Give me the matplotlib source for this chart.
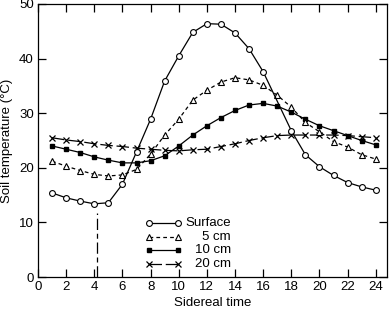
import matplotlib
matplotlib.use("Agg")
import matplotlib.pyplot as plt

plt.rcParams['font.family'] = ['Liberation Sans', 'DejaVu Sans']
plt.rcParams['font.size'] = 9.5

hours = list(range(1, 25))
surface_hours = [1, 2, 3, 4, 5, 6, 7, 8, 9, 10, 11, 12, 13, 14, 15, 16, 18, 19, 20, 21, 22, 23, 24]
surface = [15.4, 14.5, 13.9, 13.4, 13.6, 17.0, 22.9, 28.9, 35.9, 40.5, 44.8, 46.4,
           46.3, 44.7, 41.8, 37.6, 26.8, 22.4, 20.2, 18.6, 17.3, 16.5, 15.9]
cm5 = [21.2, 20.3, 19.5, 18.8, 18.5, 18.7, 19.7, 22.5, 26.0, 28.9, 32.4, 34.2,
       35.7, 36.5, 36.1, 35.1, 33.3, 31.1, 28.3, 26.6, 24.8, 23.8, 22.4, 21.6]
cm10 = [24.0, 23.4, 22.8, 22.0, 21.4, 20.9, 20.9, 21.3, 22.2, 24.0, 26.0, 27.7,
        29.2, 30.5, 31.5, 31.8, 31.3, 30.2, 28.9, 27.7, 26.8, 25.9, 25.0, 24.2]
cm20 = [25.5, 25.1, 24.8, 24.4, 24.1, 23.9, 23.6, 23.4, 23.2, 23.1, 23.3, 23.4,
        23.9, 24.4, 25.0, 25.5, 25.9, 26.0, 26.0, 26.0, 26.0, 25.9, 25.7, 25.5]
labels = ["Surface", "5 cm", "10 cm", "20 cm"]
min_time = 4.22
min_line_top = 11.7
x_ticks = list(range(0, 25, 2))
y_ticks = [0, 10, 20, 30, 40, 50]

fig = plt.figure(figsize=(3.9, 3.1), dpi=100)
ax = fig.add_axes([38/390, 1-277/310, (387-38)/390, (277-4)/310])

lw = 0.9
h1, = ax.plot(surface_hours, surface, color='black', lw=lw, marker='o', ms=4.2,
              mfc='white', mec='black', mew=0.8, zorder=5)
h2, = ax.plot(hours, cm5, color='black', lw=lw, ls=(0, (3, 2.5)), marker='^', ms=4.2,
              mfc='white', mec='black', mew=0.8, zorder=4)
h3, = ax.plot(hours, cm10, color='black', lw=lw, marker='s', ms=3.0,
              mfc='black', mec='black', zorder=3)
h4, = ax.plot(hours, cm20, color='black', lw=lw, ls=(0, (10, 3)), marker='x', ms=5,
              mec='black', mew=0.9, zorder=2)

ax.plot([min_time, min_time], [0, min_line_top], color='black', lw=lw,
        ls=(0, (9, 3, 4, 3)))

ax.set_xlim(0, 24.8)
ax.set_ylim(0, 50)
ax.set_xticks(x_ticks)
ax.set_yticks(y_ticks)
ax.tick_params(direction='in', length=6, width=0.9, top=True, right=True, pad=3.0,
               labelsize=9.5)
for s in ax.spines.values():
    s.set_linewidth(0.9)
ax.set_xlabel("Sidereal time", labelpad=2.5)
ax.set_ylabel("Soil temperature (°C)", labelpad=4)

leg = ax.legend([h1, h2, h3, h4], ["", "", "", ""], numpoints=2, frameon=False,
                loc='center left', bbox_to_anchor=(145.5/390, 1-245/310),
                bbox_transform=fig.transFigure, borderpad=0, borderaxespad=0,
                handlelength=2.8, handletextpad=0, labelspacing=0.11)

fig.canvas.draw()
renderer = fig.canvas.get_renderer()
inv = fig.transFigure.inverted()
for line, lab in zip(leg.get_lines(), labels):
    bb = line.get_window_extent(renderer)
    yc = (bb.y0 + bb.y1) / 2
    _, yf = inv.transform((0, yc))
    fig.text(231/390, yf, lab, ha='right', va='center', fontsize=9.5)

fig.savefig("out.png", dpi=100)
